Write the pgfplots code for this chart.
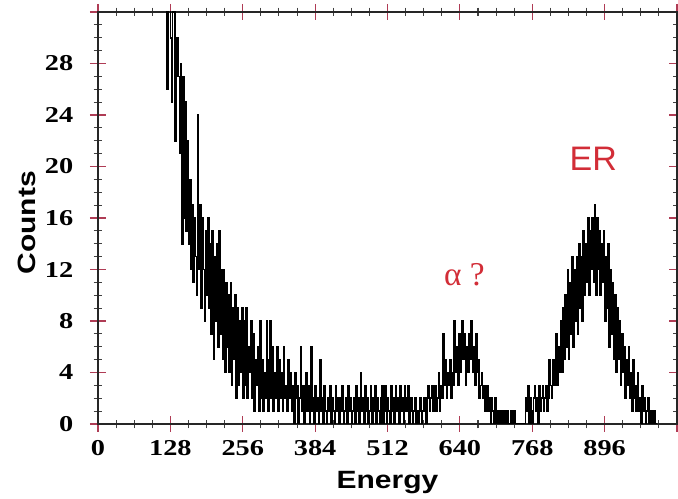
\documentclass[border=0pt]{standalone}
\usepackage{fontspec}
\setmainfont{Liberation Serif}
\newfontfamily\tickfont[FakeStretch=1.25]{Liberation Serif}
\newfontfamily\labfont[FakeStretch=1.2]{Liberation Sans}
\newfontfamily\annsans{Liberation Sans}
\newfontfamily\annserif{Liberation Serif}
\usepackage{pgfplots}
\pgfplotsset{compat=1.18}
\definecolor{tickred}{RGB}{175,60,85}
\definecolor{annred}{RGB}{210,45,55}
\begin{document}
\begin{tikzpicture}
\begin{axis}[
  scale only axis,
  width=434.25pt, height=309pt,
  xmin=0, xmax=1024, ymin=0, ymax=32,
  xtick={0,128,...,1024},
  xticklabels={0,128,256,384,512,640,768,896,},
  ytick={0,4,...,32},
  yticklabels={0,4,8,12,16,20,24,28,},
  minor x tick num=3, minor y tick num=3,
  tick align=center,
  major tick length=12pt, minor tick length=6.5pt,
  major tick style={tickred, line width=0.8pt},
  minor tick style={black!75, line width=0.8pt},
  axis line style={black!85, line width=1.5pt},
  ticklabel style={font=\tickfont\bfseries\fontsize{17}{18}\selectfont},
  yticklabel style={xshift=-9pt},
  xticklabel style={yshift=-3pt},
  xlabel={Energy},
  ylabel={Counts},
  label style={font=\labfont\bfseries\fontsize{18.75}{20}\selectfont},
  xlabel style={at={(axis description cs:0.5,-0.142)}, anchor=center},
  ylabel style={at={(axis description cs:-0.1226,0.488)}, anchor=center},
]
\addplot[const plot mark left, black, line width=1.2pt] coordinates {
(116,36) (118,33) (120,38) (122,26) (124,35) (126,34) (128,30) (130,25) (132,37) (134,32) (136,22) (138,29) (140,30) (142,27) (144,21) (146,28)
(148,14) (150,27) (152,16) (154,25) (156,15) (158,22) (160,14) (162,19) (164,12) (166,17) (168,11) (170,16) (172,13) (174,10) (176,24) (178,12)
(180,17) (182,9) (184,16) (186,12) (188,8) (190,15) (192,10) (194,16) (196,9) (198,14) (200,7) (202,15) (204,5) (206,13) (208,8) (210,14)
(212,6) (214,15) (216,7) (218,12) (220,5) (222,12) (224,4) (226,11) (228,6) (230,10) (232,4) (234,11) (236,3) (238,9) (240,5) (242,10)
(244,2) (246,9) (248,3) (250,8) (252,4) (254,9) (256,2) (258,8) (260,3) (262,9) (264,2) (266,6) (268,4) (270,8) (272,2) (274,7)
(276,1) (278,5) (280,3) (282,6) (284,1) (286,8) (288,2) (290,5) (292,1) (294,4) (296,2) (298,8) (300,1) (302,5) (304,8) (306,2)
(308,6) (310,1) (312,4) (314,2) (316,6) (318,1) (320,5) (322,2) (324,4) (326,1) (328,6) (330,2) (332,3) (334,1) (336,5) (338,2)
(340,4) (342,1) (344,3) (346,0) (348,4) (350,2) (352,3) (354,0) (356,2) (358,6) (360,1) (362,3) (364,0) (366,2) (368,4) (370,1)
(372,3) (374,0) (376,6) (378,1) (380,2) (382,0) (384,3) (386,1) (388,2) (390,0) (392,5) (394,1) (396,2) (398,0) (400,3) (402,1)
(404,0) (406,2) (408,1) (410,3) (412,0) (414,2) (416,1) (418,0) (420,3) (422,1) (424,2) (426,0) (428,2) (430,1) (432,3) (434,0)
(436,1) (438,2) (440,0) (442,3) (444,1) (446,2) (448,0) (450,1) (452,2) (454,0) (456,3) (458,1) (460,2) (462,0) (464,4) (466,1)
(468,2) (470,0) (472,3) (474,1) (476,2) (478,0) (480,1) (482,3) (484,0) (486,2) (488,1) (490,3) (492,0) (494,2) (496,1) (498,0)
(500,2) (502,3) (504,0) (506,1) (508,3) (510,0) (512,2) (514,1) (516,0) (518,3) (520,1) (522,2) (524,0) (526,3) (528,1) (530,2)
(532,0) (534,3) (536,1) (538,2) (540,0) (542,3) (544,1) (546,2) (548,3) (550,0) (552,1) (554,2) (556,0) (558,1) (560,2) (562,0)
(564,1) (566,0) (568,1) (570,2) (572,0) (574,1) (576,2) (578,1) (580,0) (582,2) (584,3) (586,1) (588,2) (590,3) (592,1) (594,2)
(596,3) (598,1) (600,2) (602,4) (604,1) (606,3) (608,2) (610,7) (612,3) (614,5) (616,2) (618,4) (620,3) (622,5) (624,2) (626,4)
(628,3) (630,8) (632,4) (634,6) (636,3) (638,7) (640,4) (642,6) (644,8) (646,5) (648,7) (650,3) (652,6) (654,4) (656,7) (658,5)
(660,8) (662,4) (664,6) (666,3) (668,7) (670,4) (672,5) (674,2) (676,3) (678,4) (680,2) (682,3) (684,1) (686,2) (688,3) (690,1)
(692,2) (694,0) (696,2) (698,1) (700,0) (702,2) (704,1) (706,0) (708,1) (710,0) (712,1) (714,0) (716,1) (718,0) (720,1) (722,0)
(724,1) (726,0) (728,0) (730,1) (732,0) (734,0) (736,1) (738,0) (740,0) (742,0) (744,0) (746,0) (748,0) (750,0) (752,0) (754,0)
(756,2) (758,1) (760,3) (762,0) (764,2) (766,1) (768,0) (770,2) (772,3) (774,1) (776,2) (778,0) (780,3) (782,1) (784,2) (786,3)
(788,1) (790,2) (792,3) (794,1) (796,2) (798,5) (800,3) (802,2) (804,5) (806,3) (808,4) (810,7) (812,3) (814,6) (816,4) (818,8)
(820,4) (822,9) (824,5) (826,10) (828,6) (830,12) (832,5) (834,11) (836,7) (838,13) (840,6) (842,12) (844,8) (846,13) (848,7) (850,14)
(852,9) (854,13) (856,8) (858,15) (860,10) (862,14) (864,11) (866,16) (868,10) (870,15) (872,12) (874,16) (876,11) (878,17) (880,10) (882,16)
(884,12) (886,15) (888,10) (890,14) (892,11) (894,15) (896,8) (898,13) (900,9) (902,14) (904,6) (906,12) (908,7) (910,11) (912,5) (914,10)
(916,4) (918,9) (920,5) (922,8) (924,3) (926,7) (928,4) (930,6) (932,2) (934,5) (936,3) (938,6) (940,2) (942,4) (944,1) (946,5)
(948,2) (950,3) (952,1) (954,4) (956,1) (958,2) (960,0) (962,3) (964,1) (966,2) (968,0) (970,1) (972,2) (974,0) (976,1) (978,0)
(980,1) (982,0) (984,1) (986,0) (988,0)
};
\node[text=annred, font=\annserif\fontsize{25}{28}\selectfont] at (axis cs:648,11.6) {α ?};
\node[text=annred, font=\annsans\fontsize{25.5}{28}\selectfont] at (axis cs:876,20.6) {ER};
\end{axis}
\pgfresetboundingbox
\path ([shift={(-73.5pt,-56.25pt)}]current axis.south west) rectangle ([shift={(0.75pt,9pt)}]current axis.north east);
\end{tikzpicture}
\end{document}
